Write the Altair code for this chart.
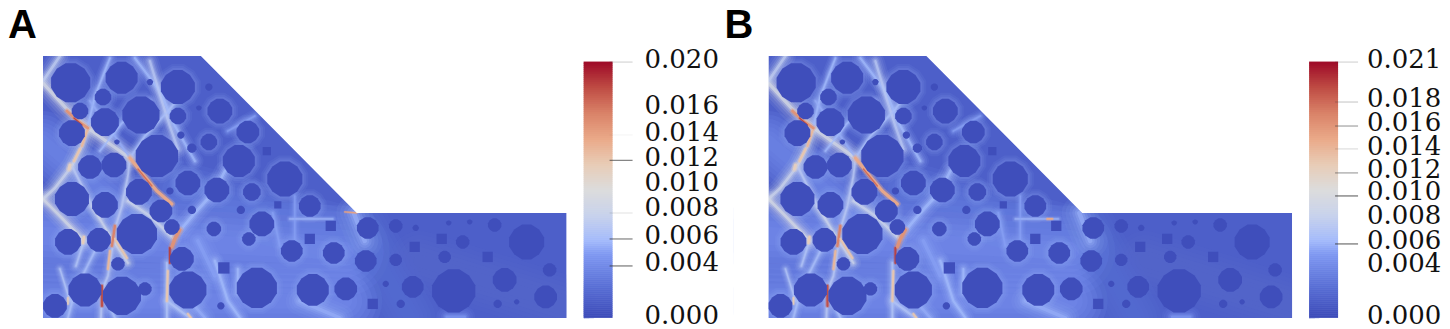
import altair as alt
import numpy as np
import pandas as pd

# Inclusions: centre x, centre y, diameter (picture units of panel A), shape flag
ag_x = [70.7,121.7,178,103,80,105,141,178,220,209,150,199,72,181,117,209,192,248,267,157,239,90,114,188,285,139,217,252,170,72,105,161,310,278,241,192,172,137,214,262,331,310,249,68,99,292,334,182,118,224,85,122,188,257,313,346,145,221,55,
        368,396,416,449,470,495,527,442,463,415,366,396,445,488,550,505,413,454,386,546,373,401,498,517]
ag_y = [81.7,76.7,86,96,110,121,114,115,110,86,81,107,132,134,141,141,147,131,150,155,160,166,164,182,178,191,189,191,190,198,204,210,205,204,209,209,226,233,228,223,225,238,238,241,239,250,252,258,263,267,289,295,289,287,289,288,288,305,305,
        227,225,227,222,221,224,241,238,241,246,260,259,256,256,269,279,286,290,283,296,303,303,303,301]
ag_d = [38,31,33,16,16,27,36,16,24,7,6,5,25,7,5,16,9,22,8,41,31,23,24,24,34,25,24,17,7,33,25,22,21,7,8,8,15,39,14,24,10,10,13,25,23,21,21,23,13,11,32,37,36,39,31,22,13,7,23,
        21,13,6,5,5,13,34,10,13,10,21,12,12,10,13,23,21,42,6,22,10,8,8,5]
ag_sq = {18,33,40,41,49,66,68,72,79}

# Shear bands: fraction of colour range, line width, polyline (x, y)
bands = [
    (.46,3.6,[(43,82),(67,108),(88,127),(110,143),(130,157)]),
    (.42,3,[(88,127),(82,145),(72,165),(55,187),(43,198)]),
    (.46,3,[(43,198),(60,215),(84,240)]),
    (.34,2,[(84,240),(76,265)]),
    (.36,2,[(130,157),(128,175),(122,205),(115,228),(112,250),(108,275),(102,290),(101,317)]),
    (.42,2.2,[(92,205),(112,238),(128,262)]),
    (.42,2.6,[(128,200),(150,215),(173,237)]),
    (.30,3,[(180,230),(195,212),(215,190),(225,170)]),
    (.38,3,[(60,55),(43,80)]),
    (.30,2,[(110,57),(95,95),(88,125)]),
    (.30,2.5,[(135,57),(160,90),(175,125),(195,160)]),
    (.36,2.6,[(150,60),(162,100),(170,125),(178,148)]),
    (.32,2,[(130,157),(145,135),(170,108),(182,92)]),
    (.28,2,[(90,100),(115,135),(130,157)]),
    (.30,1.8,[(100,150),(122,122),(150,100)]),
    (.36,2,[(72,165),(92,205),(100,215)]),
    (.32,2,[(100,240),(75,290),(68,317)]),
    (.34,2,[(167,262),(167,317)]),
    (.34,2.5,[(167,300),(190,317)]),
    (.30,2.5,[(215,260),(228,300),(240,317)]),
    (.30,2,[(238,268),(238,292)]),
    (.26,1.6,[(295,195),(295,240)]),
    (.26,2,[(273,212),(280,245)]),
    (.30,1,[(290,218),(333,218)]),
    (.28,4,[(300,300),(340,317)]),
    (.28,3,[(190,300),(205,317)]),
    (.26,4,[(198,240),(215,275)]),
    (.26,2,[(228,130),(255,115)]),
    (.28,5,[(354,212),(365,240)]),
    (.24,3,[(447,316),(465,316)]),
    (.34,1.6,[(60,268),(70,300)]),
    (.32,2,[(100,285),(115,317)]),
]

cracks_common = [
    (.76,3,[(67,110),(78,120),(88,127)]),
    (.92,1.4,[(74,117),(82,124)]),
    (.66,2.4,[(87,130),(82,145)]),
    (.62,2.4,[(80,148),(74,160)]),
    (.58,3.4,[(70,164),(69,168)]),
    (.70,3.6,[(130,157),(142,172),(157,190),(172,203)]),
    (.84,1.4,[(138,168),(152,185)]),
    (.80,2.6,[(115,225),(112,245)]),
    (.66,2.2,[(110,250),(108,268)]),
    (.90,2.4,[(102,285),(102,305)]),
    (.62,2.2,[(115,238),(127,257)]),
    (.60,2.6,[(84,236),(83,242)]),
    (.76,4,[(180,229),(175,238),(172,246)]),
    (.92,2,[(170,247),(170,262)]),
    (.62,2.2,[(168,270),(167,300)]),
    (.60,1.8,[(68,297),(68,303)]),
    (.62,2,[(188,313),(191,317)]),
]
cracks_a = [(.72,1.4,[(345,211),(357,212)])]
cracks_b = [(.70,2,[(322,218),(327,218)])]

# Soft, wide lighter zones of the field
halos = [
    (.24,60,[(43,235),(345,250)]),
    (.24,50,[(43,300),(345,300)]),
    (.22,40,[(43,140),(130,215)]),
    (.16,40,[(180,190),(345,235)]),
    (.12,40,[(360,225),(410,317)]),
    (.10,40,[(420,260),(567,305)]),
]

# Outline mask: profile of the free surface
top_x = [8,201,357,584]
top_y = [55,55,212,212]

# Colour bars
labels_a = ["0.020","0.016","0.014","0.012","0.010","0.008","0.006","0.004","0.000"]
lab_pos_a = [.02016,.01658,.01445,.01250,.01055,.00860,.00640,.00428,.00016]
tick_pos_a = [.0200,.01430,.01232,.00820,.00617,.00406]
tick_alpha_a = [.25,.06,.75,.15,.75,.8]
labels_b = ["0.021","0.018","0.016","0.014","0.012","0.010","0.008","0.006","0.004","0.000"]
lab_pos_b = [.02117,.01797,.01600,.01403,.01215,.01034,.00838,.00632,.00443,.00017]
tick_pos_b = [.0210,.01772,.01575,.01387,.01190,.01001,.00607]
tick_alpha_b = [.25,.3,.55,.2,.55,.85,.85]

stops = [0,.125,.25,.3,.4,.5,.6,.7,.8,.9,1]
stop_cols = ["#3c4ab8","#5a70d6","#8099f2","#a3bafb","#c8d2ec","#dcdcdc","#e8ccb6","#eaa988","#d98268","#bf4c44","#9e0a28"]
BASE = .07
AGG = .012
RIM = .28
POLY = "M-0.26,-1L0.26,-1L0.71,-0.71L1,-0.26L1,0.26L0.71,0.71L0.26,1L-0.26,1L-0.71,0.71L-1,0.26L-1,-0.26L-0.71,-0.71Z"
YB = 318
PANEL_H = YB - 8


def long_table(rows):
    recs = []
    for k, (v, w, pts) in enumerate(rows):
        for i, (x, y) in enumerate(pts):
            recs.append(dict(k=k, i=i, x=x, y=y, f=v, w=w))
    return pd.DataFrame(recs)


def panel(width, letter, vmax, labels, lab_pos, tick_pos, tick_alpha, extra, label_x):
    xs = alt.Scale(domain=[8, 8 + width], nice=False, zero=False)
    ys = alt.Scale(domain=[YB, 8], nice=False, zero=False)
    cs = alt.Scale(domain=stops, range=stop_cols, interpolate="rgb")
    X = alt.X("x:Q", scale=xs, axis=None)
    Y = alt.Y("y:Q", scale=ys, axis=None)
    C = alt.Color("f:Q", scale=cs, legend=None)

    base = alt.Chart(pd.DataFrame(dict(x=[43], x2=[567], y=[55], y2=[317], f=[BASE]))).mark_rect().encode(
        x=X, x2="x2:Q", y=Y, y2="y2:Q", color=C)

    def lines(rows, mult, op):
        d = long_table(rows)
        d["s"] = d.w * mult
        return alt.Chart(d).mark_line(opacity=op, strokeCap="round", strokeJoin="round", clip=True).encode(
            x=X, y=Y, color=C, detail="k:N", order="i:Q", size=alt.Size("s:Q", scale=None))

    halo_l = [lines(halos, m, .16) for m in (1.5, 1.3, 1.1, .9, .7, .5, .3)]
    band_l = [lines(bands, m, o) for m, o in ((7, .08), (5.5, .1), (4, .14), (2.8, .22), (1.8, .32), (.9, .7))]
    crack_rows = cracks_common + extra
    crack_l = [lines(crack_rows, 1.8, .35), lines(crack_rows, .9, .95)]

    mask_a = alt.Chart(pd.DataFrame(dict(x=top_x, y=top_y, y2=[8]*len(top_x)))).mark_area(color="white", clip=True).encode(
        x=X, y=Y, y2="y2:Q")
    mask_r = alt.Chart(pd.DataFrame(dict(x=[8,567,8], x2=[43,584,584], y=[8,8,317], y2=[YB]*3))).mark_rect(color="white").encode(
        x=X, x2="x2:Q", y=Y, y2="y2:Q")

    ag = pd.DataFrame(dict(x=ag_x, y=ag_y, d=ag_d))
    ag["s"] = (ag.d * 1.03) ** 2
    ag["g"] = [("square" if i in ag_sq else POLY) for i in range(len(ag))]
    ag["f"] = AGG
    agg = alt.Chart(ag).mark_point(filled=True, opacity=1, clip=True).encode(
        x=X, y=Y, color=C, size=alt.Size("s:Q", scale=None), shape=alt.Shape("g:N", scale=None))

    rim_src = ag[(ag.x < 345) & (ag.d > 12) & (ag.y > 60)].copy()
    rim_src["f"] = RIM

    def rim(pad, op):
        r = rim_src.copy()
        r["s"] = (r.d * 1.03 + pad) ** 2
        return alt.Chart(r).mark_point(filled=True, opacity=op, clip=True).encode(
            x=X, y=Y, color=C, size=alt.Size("s:Q", scale=None), shape=alt.Shape("g:N", scale=None))

    rims = [rim(p, o) for p, o in ((12, .08), (8, .11), (4, .14))]

    # Colour bar with its own vertical value scale
    vs = alt.Scale(domain=[0, vmax], range=[317 - 8, 61 - 8], nice=False, zero=True)
    edges = np.linspace(0, vmax, 129)
    bar_d = pd.DataFrame(dict(v0=edges[:-1], v1=edges[1:] + vmax * .002, f=(edges[:-1] + edges[1:]) / 2 / vmax))
    bar = alt.Chart(bar_d).mark_rect().encode(
        x=alt.X(datum=584, scale=xs, axis=None), x2=alt.X2(datum=613),
        y=alt.Y("v0:Q", scale=vs, axis=None), y2="v1:Q", color=C)
    ticks = alt.Chart(pd.DataFrame(dict(v=tick_pos, a=tick_alpha))).mark_rule(color="#333333", strokeWidth=1).encode(
        x=alt.X(datum=610, scale=xs, axis=None), x2=alt.X2(datum=633),
        y=alt.Y("v:Q", scale=vs, axis=None), opacity=alt.Opacity("a:Q", scale=None))
    text = alt.Chart(pd.DataFrame(dict(v=lab_pos, t=labels))).mark_text(
        font="DejaVu Serif", fontSize=26, align="left", baseline="middle", color="#111111").encode(
        x=alt.X(datum=label_x, scale=xs, axis=None),
        y=alt.Y("v:Q", scale=vs, axis=None), text="t:N")

    let = alt.Chart(pd.DataFrame(dict(x=[letter[1]], y=[37], t=[letter[0]]))).mark_text(
        font="Liberation Sans", fontWeight="bold", fontSize=40, align="left", baseline="alphabetic", color="black").encode(
        x=X, y=Y, text="t:N")

    return alt.layer(base, *halo_l, *rims, *band_l, *crack_l, mask_a, mask_r, agg, bar, ticks, text, let).resolve_scale(
        y="independent").properties(width=width, height=PANEL_H)


a = panel(726, ("A", 8), .02, labels_a, lab_pos_a, tick_pos_a, tick_alpha_a, cracks_a, 645)
b = panel(708, ("B", -1), .021, labels_b, lab_pos_b, tick_pos_b, tick_alpha_b, cracks_b, 642)
chart = alt.hconcat(a, b, spacing=0, bounds="flush").properties(
    padding={"left": 0, "right": 0, "top": -2, "bottom": 0}, background="white").configure_view(stroke=None)
chart.save("out.html", embed_options={"renderer": "svg", "actions": False})
